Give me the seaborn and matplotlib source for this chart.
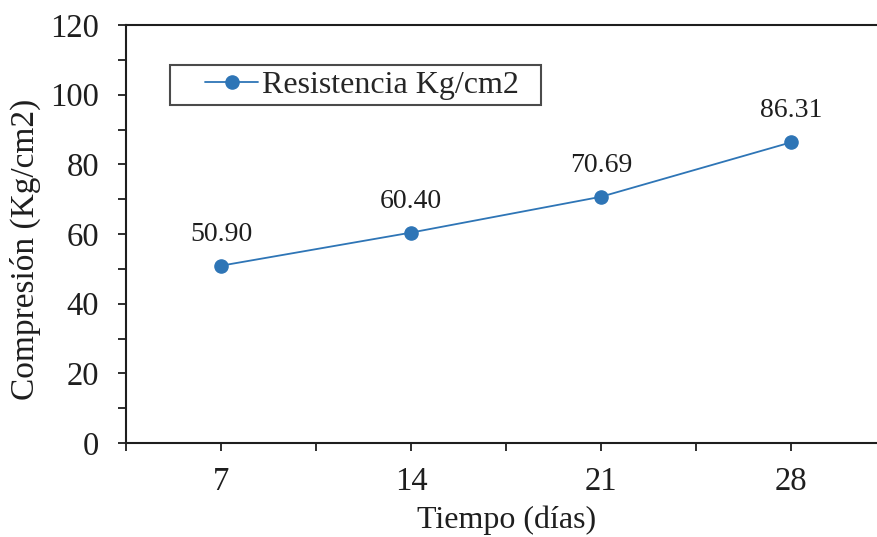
import matplotlib
matplotlib.use("Agg")
import matplotlib.pyplot as plt
from matplotlib.ticker import FixedLocator, MultipleLocator
from matplotlib.legend_handler import HandlerLine2D
from matplotlib.lines import Line2D
import seaborn as sns
import pandas as pd

# Compressive strength at each curing age
dias = ["7", "14", "21", "28"]
resistencia = [50.90, 60.40, 70.69, 86.31]
etiquetas = ["50.90", "60.40", "70.69", "86.31"]
serie = "Resistencia Kg/cm2"

df = pd.DataFrame({"Tiempo": dias, "Resistencia": resistencia})

sns.set_style("white")
plt.rcParams["font.family"] = ["Liberation Serif", "DejaVu Serif"]

color = "#2E75B6"
ink = "#1e1e1e"

fig = plt.figure(figsize=(8.77, 5.37), dpi=100)
ax = fig.add_axes([126 / 877, 94 / 537, 760 / 877, 418 / 537])

sns.pointplot(data=df, x="Tiempo", y="Resistencia", order=dias, color=color,
              markers="o", linestyles="-", markersize=9.5, linewidth=1.3,
              errorbar=None, label=serie, ax=ax)

for i, (v, t) in enumerate(zip(resistencia, etiquetas)):
    ax.annotate(t, xy=(i, v), xytext=(0, 25), textcoords="offset pixels",
                ha="center", va="baseline", fontsize=20, color=ink)

ax.set_xlim(-0.5, len(dias) - 0.5)
ax.set_ylim(0, 120)
ax.yaxis.set_major_locator(MultipleLocator(20))
ax.yaxis.set_minor_locator(MultipleLocator(10))
ax.xaxis.set_major_locator(FixedLocator(range(len(dias))))
ax.set_xticklabels(dias)
ax.xaxis.set_minor_locator(FixedLocator([i - 0.5 for i in range(len(dias) + 1)]))

ax.tick_params(axis="both", which="both", direction="out", length=6, width=1.3,
               color=ink, labelsize=23.5, labelcolor=ink)
ax.tick_params(axis="x", which="major", pad=11)
ax.tick_params(axis="y", which="major", pad=13.5)
ax.tick_params(bottom=True, left=True, which="both")

for side in ["left", "bottom", "top", "right"]:
    ax.spines[side].set_visible(True)
    ax.spines[side].set_color(ink)
    ax.spines[side].set_linewidth(1.5)

ax.set_xlabel("Tiempo (días)", fontsize=23, color=ink)
ax.xaxis.set_label_coords((507 - 126) / 760, -85 / 418)
ax.xaxis.label.set_va("baseline")
ax.set_ylabel("Compresión (Kg/cm2)", fontsize=24, color=ink)
ax.yaxis.set_label_coords((25 - 126) / 760, (443 - 249) / 418)
ax.yaxis.label.set_va("center")

leg = ax.legend(loc="upper left",
                bbox_to_anchor=(44 / 760, 0.8, 371 / 760, 1 - 40 / 418 - 0.8),
                mode="expand", fontsize=23, frameon=True, fancybox=False,
                handlelength=2.6, handletextpad=0.12, borderpad=0.17,
                borderaxespad=0,
                handler_map={Line2D: HandlerLine2D(xpad=0.94)})
leg.get_frame().set_edgecolor(ink)
leg.get_frame().set_linewidth(1.5)

fig.savefig("out.png", dpi=100, facecolor="white")
